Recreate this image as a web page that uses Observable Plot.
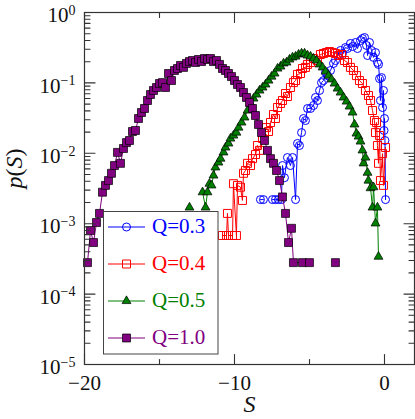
<!DOCTYPE html>
<html>
<head>
<meta charset="utf-8">
<script src="https://cdn.jsdelivr.net/npm/d3@7"></script>
<script src="https://cdn.jsdelivr.net/npm/@observablehq/plot@0.6"></script>
<style>
  html, body { margin: 0; padding: 0; background: #fff; }
  #chart { width: 415px; height: 419px; }
  #chart svg, #chart svg text, #chart svg tspan { font-family: 'Liberation Serif', 'DejaVu Serif', serif !important; }
</style>
</head>
<body>
<div id="chart"></div>
<script>
// ---- data: [S, p(S)] pairs (null = empty bin, breaks the line) ----
const q03 = [
[-8.27,2.2e-3],[-8.07,2.2e-3],[-7.8,null],
[-7.47,2.2e-3],[-7.27,2.2e-3],[-7.07,2.2e-3],[-6.87,2.2e-3],[-6.8,6.7e-3],[-6.67,4.5e-3],[-6.47,8.7e-3],[-6.27,6.7e-3],[-6.13,8.7e-3],[-5.93,2.2e-3],[-5.8,1.38e-2],[-5.67,1.29e-2],[-5.53,1.97e-2],[-5.4,3.12e-2],[-5.27,2.92e-2],[-5.13,4.33e-2],[-4.93,4.33e-2],[-4.73,4.78e-2],[-4.6,6.21e-2],[-4.47,5.62e-2],[-4.33,7.8e-2],[-4.2,0.101],[-4.07,0.108],[-3.93,0.141],[-3.8,0.127],[-3.6,0.150],[-3.4,0.189],[-3.27,0.208],[-3.13,0.245],[-2.93,0.289],[-2.8,0.262],[-2.6,0.318],[-2.47,0.308],[-2.27,0.363],[-2.13,0.329],[-1.93,0.375],[-1.8,0.308],[-1.6,0.400],[-1.47,0.427],[-1.33,0.441],[-1.2,0.340],[-1.13,0.245],[-1.0,0.375],[-0.87,0.289],[-0.73,0.230],[-0.6,0.270],[-0.47,0.195],[-0.4,0.183],[-0.33,0.115],[-0.27,0.0562],[-0.2,0.119],[-0.13,0.0447],[-0.07,0.078],[-0.03,0.0211],[0.0,0.0312],[0.03,0.0152],[0.07,2.2e-3]
];
const q04 = [
[-10.8,6.8e-4],[-10.53,6.8e-4],[-10.47,1.4e-3],[-10.4,6.8e-4],[-10.13,6.8e-4],[-10.07,3.7e-3],[-9.87,6.8e-4],[-9.8,3.5e-3],[-9.6,3.3e-3],[-9.47,2.14e-3],[-9.4,5.2e-3],[-9.27,5.7e-3],[-9.13,7.2e-3],[-8.93,6.7e-3],[-8.8,8.4e-3],[-8.6,9.6e-3],[-8.47,1.29e-2],[-8.33,1.1e-2],[-8.13,1.62e-2],[-8.0,1.91e-2],[-7.87,2.32e-2],[-7.73,2.04e-2],[-7.6,2.74e-2],[-7.4,3.56e-2],[-7.27,3.12e-2],[-7.13,4.47e-2],[-6.93,5.1e-2],[-6.8,5.62e-2],[-6.6,7.07e-2],[-6.47,6.41e-2],[-6.27,8.6e-2],[-6.07,0.101],[-5.93,0.108],[-5.8,0.132],[-5.6,0.136],[-5.47,0.160],[-5.27,0.166],[-5.13,0.183],[-4.93,0.195],[-4.73,0.222],[-4.47,0.208],[-4.27,0.253],[-4.07,0.262],[-3.87,0.270],[-3.67,0.279],[-3.47,0.270],[-3.27,0.262],[-3.07,0.245],[-2.87,0.253],[-2.67,0.208],[-2.47,0.195],[-2.27,0.166],[-2.07,0.150],[-1.87,0.127],[-1.67,0.108],[-1.47,0.098],[-1.27,0.078],[-1.07,0.0662],[-0.93,0.0562],[-0.8,0.0405],[-0.67,0.0292],[-0.6,0.0197],[-0.53,0.0274],[-0.47,0.0129],[-0.4,0.0072],[-0.33,0.0179],[-0.27,0.0041],[-0.13,0.0099],[-0.07,0.0035],[0.07,0.0121]
];
const q05 = [
[-13.0,1.7e-3],[-12.6,null],
[-12.13,2.8e-3],[-11.93,1.7e-3],[-11.8,2.8e-3],[-11.67,3.7e-3],[-11.53,3.5e-3],[-11.4,4.84e-3],[-11.27,6.3e-3],[-11.07,7.4e-3],[-10.93,8.4e-3],[-10.73,1.03e-2],[-10.6,1.21e-2],[-10.4,1.38e-2],[-10.27,1.62e-2],[-10.07,1.79e-2],[-9.87,1.97e-2],[-9.73,2.32e-2],[-9.53,2.74e-2],[-9.33,3.23e-2],[-9.13,4.05e-2],[-8.93,5.1e-2],[-8.73,6.0e-2],[-8.53,6.84e-2],[-8.33,7.8e-2],[-8.13,8.6e-2],[-7.93,9.5e-2],[-7.73,0.108],[-7.53,0.123],[-7.33,0.136],[-7.13,0.160],[-6.93,0.171],[-6.73,0.189],[-6.53,0.195],[-6.33,0.215],[-6.13,0.230],[-5.93,0.237],[-5.73,0.253],[-5.53,0.262],[-5.33,0.262],[-5.13,0.245],[-4.93,0.237],[-4.73,0.222],[-4.53,0.208],[-4.33,0.183],[-4.13,0.166],[-3.93,0.145],[-3.73,0.127],[-3.53,0.112],[-3.33,0.098],[-3.13,0.0832],[-2.93,0.073],[-2.73,0.0621],[-2.53,0.0544],[-2.33,0.0462],[-2.13,0.038],[-2.0,0.0257],[-1.87,0.0191],[-1.73,0.0173],[-1.6,0.0147],[-1.47,0.0110],[-1.4,0.0072],[-1.27,0.0087],[-1.13,0.0053],[-1.07,0.0041],[-0.93,0.0032],[-0.8,0.0017],[-0.73,0.0033],[-0.6,0.00101],[-0.47,0.0017],[-0.4,0.00034]
];
const q10 = [
[-19.8,2.8e-4],[-19.6,8.0e-4],[-19.4,5.4e-4],[-19.2,1.04e-3],[-19.0,1.4e-3],[-18.8,2.8e-3],[-18.6,3.5e-3],[-18.4,4.1e-3],[-18.2,5.2e-3],[-18.0,6.7e-3],[-17.8,1.03e-2],[-17.6,7.2e-3],[-17.4,1.17e-2],[-17.2,1.42e-2],[-17.0,1.52e-2],[-16.8,2.04e-2],[-16.6,2.11e-2],[-16.4,3.12e-2],[-16.2,3.8e-2],[-16.0,4.33e-2],[-15.8,5.62e-2],[-15.6,6.84e-2],[-15.4,7.8e-2],[-15.2,8.6e-2],[-15.0,9.8e-2],[-14.8,0.101],[-14.6,0.086],[-14.4,0.136],[-14.2,0.108],[-14.0,0.150],[-13.8,0.160],[-13.6,0.177],[-13.4,0.166],[-13.2,0.189],[-13.0,0.201],[-12.8,0.208],[-12.6,0.195],[-12.4,0.215],[-12.2,0.201],[-12.0,0.222],[-11.8,0.215],[-11.6,0.222],[-11.4,0.201],[-11.2,0.208],[-11.0,0.183],[-10.8,0.160],[-10.6,0.150],[-10.4,0.136],[-10.2,0.123],[-10.0,0.108],[-9.8,0.095],[-9.6,0.086],[-9.4,0.073],[-9.2,0.0621],[-9.0,0.0527],[-8.8,0.0433],[-8.6,0.0344],[-8.4,0.0257],[-8.2,0.0197],[-8.0,0.0152],[-7.8,0.0110],[-7.6,0.0084],[-7.4,0.0072],[-7.2,0.0057],[-7.0,0.0041],[-6.8,0.0024],[-6.6,0.0014],[-6.4,5.4e-4],[-6.2,8.6e-4],[-6.07,2.8e-4],[-5.47,2.8e-4],[-5.0,2.8e-4],[-4.2,null],[-3.27,2.8e-4]
];

const seriesNames = ["Q=0.3", "Q=0.4", "Q=0.5", "Q=1.0"];
const seriesData = [q03, q04, q05, q10];

const xMajorTicks = [-20, -10, 0];
const xMinorTicks = [-15, -5];
const yMajorTicks = [1e-5, 1e-4, 1e-3, 1e-2, 1e-1, 1];
const yMinorFactors = [2, 3, 4, 5, 6, 7, 8, 9];

// ---- styles ----
const styles = [
  {color: "#0000ff", symbol: "circle",   r: 4.0, fill: "none",    edge: "#0000ff", edgeWidth: 1},
  {color: "#ff0000", symbol: "square",   r: 4.5, fill: "none",    edge: "#ff0000", edgeWidth: 1},
  {color: "#008000", symbol: "triangle", r: 3.3, fill: "#008000", edge: "#000",    edgeWidth: 0.7},
  {color: "#800080", symbol: "square",   r: 4.5, fill: "#800080", edge: "#000",    edgeWidth: 0.7}
];
const FONT = "'Liberation Serif', 'DejaVu Serif', serif";
const AXIS = "#333";

const yMinorTicks = yMajorTicks.slice(0, -1).flatMap(d => yMinorFactors.map(f => d * f));
const tickShape = {draw(ctx, l) { ctx.moveTo(0, 0); ctx.lineTo(0, -l); }};
function inTicks(values, channel, frameAnchor, rotate, length) {
  return Plot.vector(values, {[channel]: d => d, frameAnchor, rotate, length, anchor: "start",
    shape: tickShape, stroke: AXIS, strokeWidth: 1.1});
}

const rows = seriesData.map(arr => arr.map(([S, p]) => ({S, p})));
const seriesMarks = rows.flatMap((data, i) => {
  const st = styles[i];
  return [
    Plot.line(data, {x: "S", y: "p", stroke: st.color, strokeWidth: 1}),
    Plot.dot(data, {x: "S", y: "p", symbol: st.symbol, r: st.r, fill: st.fill,
      stroke: st.edge, strokeWidth: st.edgeWidth})
  ];
});

const expLabel = d => { const e = Math.round(Math.log10(d)); return e < 0 ? "\u2212" + (-e) : String(e); };
const xLabel = d => d < 0 ? "\u2212" + (-d) : String(d);

const svg = Plot.plot({
  width: 415, height: 419,
  marginLeft: 84, marginRight: 1, marginTop: 12, marginBottom: 55,
  style: {fontFamily: FONT, fontSize: "21px", background: "#fff", color: "#111", overflow: "visible"},
  x: {domain: [-20, 2]},
  y: {type: "log", domain: [1e-5, 1]},
  marks: [
    ...seriesMarks,
    Plot.frame({stroke: AXIS, strokeWidth: 1.2}),
    inTicks(xMajorTicks, "x", "bottom", 0, 10),
    inTicks(xMinorTicks, "x", "bottom", 0, 5),
    inTicks(xMajorTicks, "x", "top", 180, 10),
    inTicks(xMinorTicks, "x", "top", 180, 5),
    inTicks(yMajorTicks, "y", "left", 90, 10.5),
    inTicks(yMinorTicks, "y", "left", 90, 5.5),
    inTicks(yMajorTicks, "y", "right", -90, 10.5),
    inTicks(yMinorTicks, "y", "right", -90, 5.5),
    Plot.axisX({ticks: xMajorTicks, tickSize: 0, tickPadding: 11, tickFormat: xLabel, label: null, fontFamily: FONT}),
    Plot.axisY({ticks: yMajorTicks, tickSize: 0, tickPadding: 9, tickFormat: expLabel, label: null, dy: 3, fontFamily: FONT}),
    Plot.text(["S"], {text: d => d, frameAnchor: "bottom", dy: 47, fontSize: 24, fontStyle: "italic", fontFamily: FONT}),
    Plot.text(["p(S)"], {text: d => d, frameAnchor: "left", dx: -70, rotate: -90, fontSize: 24, fontStyle: "italic", fontFamily: FONT})
  ]
});

const root = d3.select(svg);
root.attr("font-family", FONT);
// y tick labels as 10^n
root.selectAll('g[aria-label="y-axis tick label"] text').each(function() {
  const t = d3.select(this);
  const e = t.text();
  t.text(null);
  t.append("tspan").text("10");
  t.append("tspan").attr("dy", -7.5).attr("font-size", 14).text(e);
});
// p(S) with upright parentheses
root.selectAll("text").filter(function() { return this.textContent === "p(S)"; }).each(function() {
  const t = d3.select(this);
  t.text(null);
  [["p", "italic"], ["(", "normal"], ["S", "italic"], [")", "normal"]].forEach(([c, s]) =>
    t.append("tspan").attr("font-style", s).text(c));
});

// legend
const L = {x: 103.5, y: 211.5, w: 114.5, h: 142.5, rowY: [227, 264, 301, 338],
           lineX1: 108, lineX2: 145, markerX: 126.5, textX: 152};
const lg = root.append("g").attr("aria-label", "legend");
lg.append("rect").attr("x", L.x).attr("y", L.y).attr("width", L.w).attr("height", L.h)
  .attr("fill", "#fff").attr("stroke", "#444").attr("stroke-width", 1);
const symbolMap = {circle: d3.symbolCircle, square: d3.symbolSquare, triangle: d3.symbolTriangle};
styles.forEach((st, i) => {
  const y = L.rowY[i];
  lg.append("line").attr("x1", L.lineX1).attr("x2", L.lineX2).attr("y1", y).attr("y2", y)
    .attr("stroke", st.color).attr("stroke-width", 1);
  lg.append("path").attr("transform", `translate(${L.markerX},${y})`)
    .attr("d", d3.symbol(symbolMap[st.symbol], Math.PI * st.r * st.r)())
    .attr("fill", st.fill).attr("stroke", st.edge).attr("stroke-width", st.edgeWidth);
  lg.append("text").attr("x", L.textX).attr("y", y + 5.5).attr("fill", st.color)
    .attr("font-size", 21).attr("font-family", FONT).attr("text-anchor", "start").text(seriesNames[i]);
});

document.getElementById("chart").append(svg);
</script>
</body>
</html>
